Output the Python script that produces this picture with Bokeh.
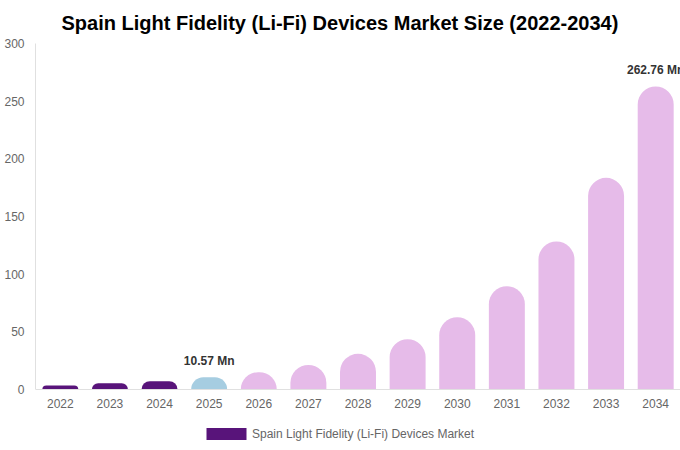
from bokeh.plotting import figure
from bokeh.models import ColumnDataSource, FactorRange, Range1d, FixedTicker, Legend, LegendItem
from bokeh.transform import factor_cmap
from bokeh.core.properties import value
from bokeh.embed import file_html
from bokeh.resources import INLINE

# ---- data ----
years = ["2022", "2023", "2024", "2025", "2026", "2027", "2028",
         "2029", "2030", "2031", "2032", "2033", "2034"]
market_size = [3.5, 5.4, 7.2, 10.57, 15.0, 21.3, 30.9, 43.6, 62.7, 89.6, 128.4, 183.5, 262.76]
phase = ["historic", "historic", "historic", "base", "forecast", "forecast", "forecast",
         "forecast", "forecast", "forecast", "forecast", "forecast", "forecast"]
phases = ["historic", "base", "forecast"]
phase_colors = ["#58147a", "#a6cde1", "#e6bbe9"]
y_ticks = [0, 50, 100, 150, 200, 250, 300]
series_name = "Spain Light Fidelity (Li-Fi) Devices Market"
title_text = "Spain Light Fidelity (Li-Fi) Devices Market Size (2022-2034)"
ann_years = ["2025", "2034"]
ann_values = [10.57, 262.76]
ann_text = ["10.57 Mn", "262.76 Mn"]

FONT = "Liberation Sans"
Y_MAX = 300
Y_MIN = -50.3   # room below the baseline for the axis labels and legend

src = ColumnDataSource(dict(year=years, size=market_size, phase=phase))
ann = ColumnDataSource(dict(year=ann_years, size=ann_values, text=ann_text))

p = figure(width=680, height=450, x_range=FactorRange(*years), y_range=Range1d(Y_MIN, Y_MAX),
           output_backend="svg", toolbar_location=None, tools="",
           min_border_left=35, min_border_right=0, min_border_top=43, min_border_bottom=3)
p.x_range.range_padding = 0
p.outline_line_color = None
p.xgrid.grid_line_color = None
p.ygrid.grid_line_color = None

p.title.text = title_text
p.title.align = "left"
p.title.offset = 26
p.title.standoff = 19
p.title.text_font = FONT
p.title.text_font_size = "20px"
p.title.text_font_style = "bold"
p.title.text_color = "#000000"

r = p.vbar(x="year", top="size", width=0.725, source=src,
           fill_color=factor_cmap("phase", palette=phase_colors, factors=phases),
           line_color=None, border_radius=(18, 18, 0, 0))

p.text(x="year", y="size", text="text", source=ann, y_offset=-9,
       text_align="center", text_baseline="bottom",
       text_font=value(FONT), text_font_size="12px", text_font_style="bold",
       text_color="#333333")

for ax in (p.xaxis[0], p.yaxis[0]):
    ax.axis_line_color = "#e0e0e0"
    ax.major_tick_line_color = None
    ax.minor_tick_line_color = None
    ax.major_tick_in = 0
    ax.major_tick_out = 0
    ax.major_label_text_font = FONT
    ax.major_label_text_font_size = "12px"
    ax.major_label_text_color = "#666666"

p.yaxis[0].ticker = FixedTicker(ticks=y_ticks)
p.yaxis[0].bounds = (0, Y_MAX)
p.yaxis[0].major_label_standoff = 11
p.xaxis[0].fixed_location = 0
p.xaxis[0].major_label_standoff = 10

legend = Legend(items=[LegendItem(label=series_name, renderers=[r], index=0)],
                location=(166, 6), orientation="horizontal",
                glyph_width=50, glyph_height=15,
                label_text_font=FONT, label_text_font_size="12px", label_text_color="#666666",
                border_line_color=None, background_fill_alpha=0, padding=0, margin=0,
                label_standoff=1)
p.add_layout(legend, "center")

open("out.html", "w").write(file_html(p, INLINE))
